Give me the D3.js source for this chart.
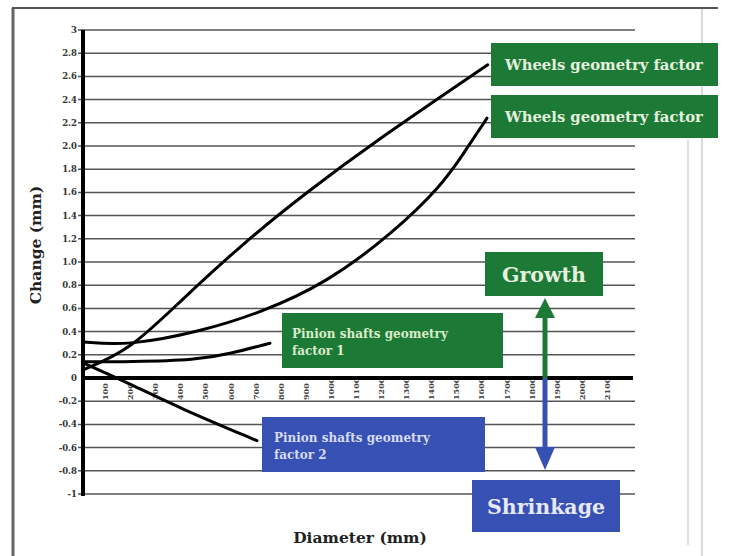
<!DOCTYPE html>
<html><head><meta charset="utf-8">
<script src="https://cdn.jsdelivr.net/npm/d3@7"></script>
<style>html,body{margin:0;padding:0;background:#fff;}svg{display:block;}</style>
</head><body>
<svg id="c" width="730" height="556"></svg>
<script>
// ---- data ----
const yTicks = [3, 2.8, 2.6, 2.4, 2.2, 2.0, 1.8, 1.6, 1.4, 1.2, 1.0, 0.8, 0.6, 0.4, 0.2, 0, -0.2, -0.4, -0.6, -0.8, -1];
const yTickLabels = ["3","2.8","2.6","2.4","2.2","2.0","1.8","1.6","1.4","1.2","1.0","0.8","0.6","0.4","0.2","0","-0.2","-0.4","-0.6","-0.8","-1"];
const xTicks = [100,200,300,400,500,600,700,800,900,1000,1100,1200,1300,1400,1500,1600,1700,1800,1900,2000,2100];

const wheelsADiam = [12, 199, 398, 665, 904, 1143, 1625];
const wheelsAVal  = [0.07, 0.24, 0.66, 1.19, 1.60, 1.99, 2.70];
const wheelsBDiam = [12, 199, 478, 717, 984, 1247, 1442, 1530, 1622];
const wheelsBVal  = [0.31, 0.28, 0.40, 0.56, 0.82, 1.25, 1.66, 1.94, 2.24];
const pinion1Diam = [12, 199, 466, 598, 757];
const pinion1Val  = [0.14, 0.14, 0.155, 0.21, 0.30];
const pinion2Diam = [12, 199, 398, 705];
const pinion2Val  = [0.13, -0.05, -0.26, -0.54];

const labels = {
  wheelsA: "Wheels geometry factor",
  wheelsB: "Wheels geometry factor",
  pinion1: ["Pinion shafts geometry", "factor 1"],
  pinion2: ["Pinion shafts geometry", "factor 2"],
  growth: "Growth",
  shrink: "Shrinkage",
  yTitle: "Change (mm)",
  xTitle: "Diameter (mm)"
};

// ---- drawing ----
const svg = d3.select("#c");
const FONT = "DejaVu Serif, Liberation Serif, serif";
const GREEN = "#1d7936", BLUE = "#3650b3";
const x = d3.scaleLinear().domain([0, 2200]).range([80, 632]);
const y = d3.scaleLinear().domain([-1, 3]).range([494, 30]);
const axisX = 83;

// frame
svg.append("line").attr("x1",13).attr("x2",13).attr("y1",8).attr("y2",556).attr("stroke","#666").attr("stroke-width",3);
svg.append("line").attr("x1",12).attr("x2",718).attr("y1",8).attr("y2",8).attr("stroke","#555").attr("stroke-width",2);
svg.append("line").attr("x1",702).attr("x2",702).attr("y1",9).attr("y2",556).attr("stroke","#ccc").attr("stroke-width",1.5);
svg.append("line").attr("x1",688).attr("x2",688).attr("y1",140).attr("y2",545).attr("stroke","#ccc").attr("stroke-width",1.2);

// gridlines
svg.append("g").selectAll("line").data(yTicks.filter(d=>d!==0)).join("line")
  .attr("x1",78).attr("x2",635).attr("y1",d=>y(d)).attr("y2",d=>y(d))
  .attr("stroke","#555").attr("stroke-width",1.5);

// y tick labels
svg.append("g").selectAll("text").data(yTicks).join("text")
  .attr("x",77).attr("y",d=>y(d)+3).attr("text-anchor","end")
  .attr("font-family",FONT).attr("font-weight","bold").attr("font-size",8.5).attr("fill","#333")
  .text((d,i)=>yTickLabels[i]);

// x tick labels (rotated)
svg.append("g").selectAll("text").data(xTicks).join("text")
  .attr("transform",d=>`translate(${x(d)+3},400) rotate(-90)`)
  .attr("text-anchor","start")
  .attr("font-family",FONT).attr("font-weight","bold").attr("font-size",8).attr("fill","#444")
  .text(d=>d);

// axes
svg.append("line").attr("x1",axisX).attr("x2",633).attr("y1",y(0)).attr("y2",y(0)).attr("stroke","#000").attr("stroke-width",4);
svg.append("line").attr("x1",axisX).attr("x2",axisX).attr("y1",y(3)).attr("y2",y(-1)+2).attr("stroke","#000").attr("stroke-width",4);

// curves
const line = d3.line().x(d=>x(d[0])).y(d=>y(d[1])).curve(d3.curveBasis);
const series = [
  [wheelsADiam, wheelsAVal],
  [wheelsBDiam, wheelsBVal],
  [pinion1Diam, pinion1Val],
  [pinion2Diam, pinion2Val]
];
svg.append("g").selectAll("path").data(series).join("path")
  .attr("d",s=>line(s[0].map((d,i)=>[d,s[1][i]])))
  .attr("fill","none").attr("stroke","#000").attr("stroke-width",3).attr("stroke-linecap","round");

// boxes
function box(x0,y0,w,h,fill){
  svg.append("rect").attr("x",x0).attr("y",y0).attr("width",w).attr("height",h).attr("fill",fill);
}
function txt(tx,ty,s,size,fill,anchor){
  svg.append("text").attr("x",tx).attr("y",ty).attr("font-family",FONT).attr("font-weight","bold")
    .attr("font-size",size).attr("fill",fill).attr("text-anchor",anchor||"start").text(s);
}
box(491,43,227,43,GREEN); txt(604,70,labels.wheelsA,14.8,"#e4f1df","middle");
box(491,95,227,43,GREEN); txt(604,122,labels.wheelsB,14.8,"#e4f1df","middle");
box(282,313,221,55,GREEN); txt(292,338,labels.pinion1[0],12,"#d9ecc9"); txt(292,355,labels.pinion1[1],12,"#d9ecc9");
box(262,417,223,55,BLUE); txt(274,442,labels.pinion2[0],12,"#d6dbf2"); txt(274,459,labels.pinion2[1],12,"#d6dbf2");
box(485,252,118,44,GREEN); txt(544,282,labels.growth,20.5,"#e4f1df","middle");
box(472,480,148,52,BLUE); txt(546,514,labels.shrink,20.5,"#e6e8f7","middle");

// growth / shrinkage arrow
const ax = 545;
svg.append("line").attr("x1",ax).attr("x2",ax).attr("y1",y(0)).attr("y2",312).attr("stroke",GREEN).attr("stroke-width",5);
svg.append("path").attr("d",`M${ax-10},318 L${ax},298 L${ax+10},318 Z`).attr("fill",GREEN);
svg.append("line").attr("x1",ax).attr("x2",ax).attr("y1",y(0)).attr("y2",452).attr("stroke",BLUE).attr("stroke-width",5);
svg.append("path").attr("d",`M${ax-10},447 L${ax},470 L${ax+10},447 Z`).attr("fill",BLUE);

// axis titles
svg.append("text").attr("transform","translate(41,245) rotate(-90)").attr("text-anchor","middle")
  .attr("font-family",FONT).attr("font-weight","bold").attr("font-size",15.5).attr("fill","#222").text(labels.yTitle);
svg.append("text").attr("x",360).attr("y",543).attr("text-anchor","middle")
  .attr("font-family",FONT).attr("font-weight","bold").attr("font-size",15.5).attr("fill","#222").text(labels.xTitle);
</script>
</body></html>
